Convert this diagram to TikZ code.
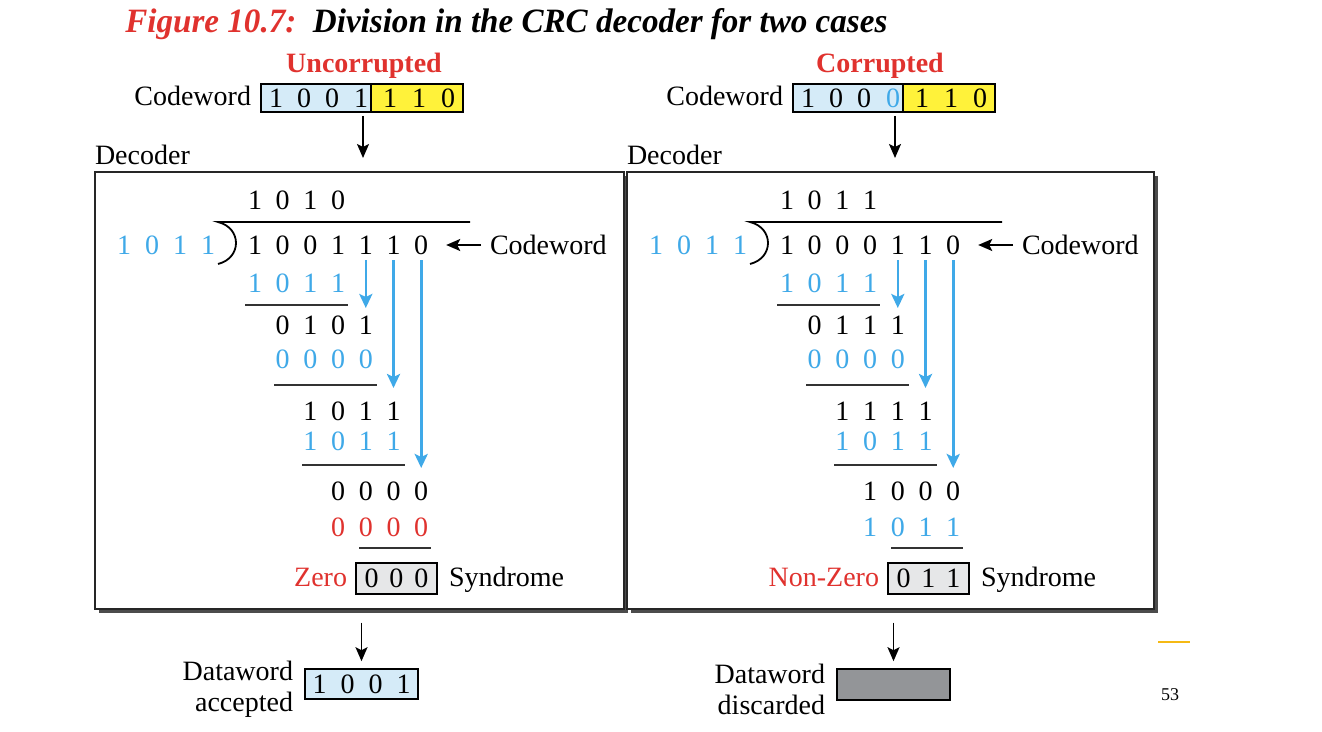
\documentclass[tikz,border=0pt]{standalone}
\usepackage{fontspec}
\setmainfont{Liberation Serif}
\usetikzlibrary{arrows.meta,shadows,fit,calc}

\definecolor{crcblue}{HTML}{3FA9E8}
\definecolor{crcred}{HTML}{E0322E}
\definecolor{datafill}{HTML}{D5EBF8}
\definecolor{crcfill}{HTML}{FFF23A}
\definecolor{syndfill}{HTML}{E6E7E8}
\definecolor{lostfill}{HTML}{939598}
\definecolor{pagebar}{HTML}{F5B914}

\tikzset{
  txt/.style={font=\fontsize{14pt}{15.5pt}\selectfont, inner sep=0pt, outer sep=0pt},
  bit/.style={txt, text height=9.5pt, text depth=0pt},
  cell/.style={draw=black, line width=0.8pt, inner sep=0pt, minimum height=14pt,
    font=\fontsize{14pt}{15.5pt}\selectfont},
  decbox/.style={draw=black!85, line width=0.7pt, fill=white, inner sep=0pt,
    drop shadow={shadow xshift=2pt, shadow yshift=-2pt, fill=black!70, opacity=1}},
  arr/.style={line width=0.9pt, -{Stealth[length=7pt, width=6pt, inset=1.5pt]}},
  barr/.style={crcblue, line width=1.3pt, -{Stealth[length=7pt, width=6.5pt, inset=1.5pt]}},
  rule/.style={line width=0.9pt, black!80},
}

% one row of the long division, one node per bit
\newcommand{\bitrow}[5]{%
  \foreach \b [count=\k from #2] in {#5}
  {
    \node[bit, text=#4] (#1\k) at ({255+(\k-1)*27.7}, #3) {\b};
  };
}

\begin{document}
\begin{tikzpicture}[x=0.5pt, y=-0.5pt]
\useasboundingbox (0,0) rectangle (1322,732);

\node[anchor=base west, inner sep=0pt] (title) at (125,33)
  {\resizebox{381pt}{12pt}{\fontsize{19pt}{22pt}\selectfont\bfseries\itshape\textcolor{crcred}{Figure 10.7:}\ \ Division in the CRC decoder for two cases}};

% uncorrupted
\node[txt, anchor=base, font=\fontsize{14pt}{15.5pt}\selectfont\bfseries, text=crcred] (Lcase) at (364,73) {Uncorrupted};
\node[txt, anchor=base east] (Lcwlbl) at (251,106) {Codeword};
\node[cell, fill=datafill, minimum width=55pt] (Lcwd) at (316,98) {};
\node[cell, fill=crcfill, minimum width=46pt] (Lcwc) at (417,98) {};
\foreach \b/\c/\x [count=\k] in {1/black/276, 0/black/304, 0/black/332, 1/black/361, 1/black/390, 1/black/419, 0/black/448}
{
  \node[bit, text=\c] (Lcb-\k) at (\x,98) {\b};
};
\coordinate (Lin) at (363,158);
\draw[arr] ($(Lcwd.south -| Lin)+(0,3)$) -- (Lin);

\node[txt, anchor=base west] (Ldeclbl) at (95,165) {Decoder};
\node[decbox, fit={(95,172) (624,609)}] (Ldec) {};

\bitrow{Lq-}{1}{200}{black}{1,0,1,0}
\foreach \b [count=\k] in {1,0,1,1}
{
  \node[bit, text=crcblue] (Ld-\k) at ({124+(\k-1)*28}, 245) {\b};
};
\draw[rule, black] (470,222) -- (218,222) .. controls (242,228) and (242,258) .. (218,264);
\bitrow{Lw-}{1}{245}{black}{1,0,0,1,1,1,0}
\node[txt, anchor=west] (Lcwtxt) at (490,245) {Codeword};
\draw[arr] ([xshift=-4.5pt]Lcwtxt.west) -- ([xshift=9pt]Lw-7.east);

\bitrow{Lr1-}{1}{283}{crcblue}{1,0,1,1}
\draw[rule] (245,305) -- (348,305);
\bitrow{Lr2-}{2}{325}{black}{0,1,0,1}
\bitrow{Lr3-}{2}{359}{crcblue}{0,0,0,0}
\draw[rule] (274,385) -- (377,385);
\bitrow{Lr4-}{3}{411}{black}{1,0,1,1}
\bitrow{Lr5-}{3}{441}{crcblue}{1,0,1,1}
\draw[rule] (302,465) -- (405,465);
\bitrow{Lr6-}{4}{491}{black}{0,0,0,0}
\bitrow{Lr7-}{4}{527}{crcred}{0,0,0,0}
\draw[rule] (359,548) -- (431,548);

\foreach \k/\yy in {5/308, 6/388, 7/468}
{
  \coordinate (Lt\k) at ({255+(\k-1)*27.7}, \yy);
  \draw[barr] ([yshift=-3pt]Lw-\k.south) -- (Lt\k);
};

\node[txt, anchor=base east, text=crcred] (Lzero) at (347,586) {Zero};
\node[cell, fill=syndfill, minimum width=40.5pt, minimum height=15.5pt] (Lsyn) at (396.5,578.5) {0\hspace{5.5pt}0\hspace{5.5pt}0};
\node[txt, anchor=base west] (Lsyntxt) at (449,586) {Syndrome};

\node[cell, fill=datafill, minimum width=56.5pt, minimum height=15pt] (Lout) at (361.5,684) {1\hspace{7pt}0\hspace{7pt}0\hspace{7pt}1};
\node[txt, align=right, anchor=east] (Ldw) at (293,689) {Dataword\\accepted};
\draw[arr] ($(Ldec.south -| Lout.north)+(0,13)$) -- ($(Lout.north)+(0,-7)$);

% corrupted
\begin{scope}[xshift=266pt]
\node[txt, anchor=base, font=\fontsize{14pt}{15.5pt}\selectfont\bfseries, text=crcred] (Rcase) at (348,73) {Corrupted};
\node[txt, anchor=base east] (Rcwlbl) at (251,106) {Codeword};
\node[cell, fill=datafill, minimum width=55pt] (Rcwd) at (316,98) {};
\node[cell, fill=crcfill, minimum width=46pt] (Rcwc) at (417,98) {};
\foreach \b/\c/\x [count=\k] in {1/black/276, 0/black/304, 0/black/332, 0/crcblue/361, 1/black/390, 1/black/419, 0/black/448}
{
  \node[bit, text=\c] (Rcb-\k) at (\x,98) {\b};
};
\coordinate (Rin) at (363,158);
\draw[arr] ($(Rcwd.south -| Rin)+(0,3)$) -- (Rin);

\node[txt, anchor=base west] (Rdeclbl) at (95,165) {Decoder};
\node[decbox, fit={(95,172) (622,609)}] (Rdec) {};

\bitrow{Rq-}{1}{200}{black}{1,0,1,1}
\foreach \b [count=\k] in {1,0,1,1}
{
  \node[bit, text=crcblue] (Rd-\k) at ({124+(\k-1)*28}, 245) {\b};
};
\draw[rule, black] (470,222) -- (218,222) .. controls (242,228) and (242,258) .. (218,264);
\bitrow{Rw-}{1}{245}{black}{1,0,0,0,1,1,0}
\node[txt, anchor=west] (Rcwtxt) at (490,245) {Codeword};
\draw[arr] ([xshift=-4.5pt]Rcwtxt.west) -- ([xshift=9pt]Rw-7.east);

\bitrow{Rr1-}{1}{283}{crcblue}{1,0,1,1}
\draw[rule] (245,305) -- (348,305);
\bitrow{Rr2-}{2}{325}{black}{0,1,1,1}
\bitrow{Rr3-}{2}{359}{crcblue}{0,0,0,0}
\draw[rule] (274,385) -- (377,385);
\bitrow{Rr4-}{3}{411}{black}{1,1,1,1}
\bitrow{Rr5-}{3}{441}{crcblue}{1,0,1,1}
\draw[rule] (302,465) -- (405,465);
\bitrow{Rr6-}{4}{491}{black}{1,0,0,0}
\bitrow{Rr7-}{4}{527}{crcblue}{1,0,1,1}
\draw[rule] (359,548) -- (431,548);

\foreach \k/\yy in {5/308, 6/388, 7/468}
{
  \coordinate (Rt\k) at ({255+(\k-1)*27.7}, \yy);
  \draw[barr] ([yshift=-3pt]Rw-\k.south) -- (Rt\k);
};

\node[txt, anchor=base east, text=crcred] (Rnonzero) at (347,586) {Non-Zero};
\node[cell, fill=syndfill, minimum width=40.5pt, minimum height=15.5pt] (Rsyn) at (396.5,578.5) {0\hspace{5.5pt}1\hspace{5.5pt}1};
\node[txt, anchor=base west] (Rsyntxt) at (449,586) {Syndrome};

\node[cell, fill=lostfill, minimum width=56.5pt, minimum height=15.5pt] (Rout) at (361.5,684.5) {};
\node[txt, align=right, anchor=east] (Rdw) at (293,689) {Dataword\\discarded};
\draw[arr] ($(Rdec.south -| Rout.north)+(0,13)$) -- ($(Rout.north)+(0,-7)$);
\end{scope}

% slide furniture
\draw[pagebar, line width=1pt] (1158,642) -- (1190,642);
\node[txt, font=\fontsize{9pt}{10pt}\selectfont] (pageno) at (1170,695) {53};
\end{tikzpicture}
\end{document}
